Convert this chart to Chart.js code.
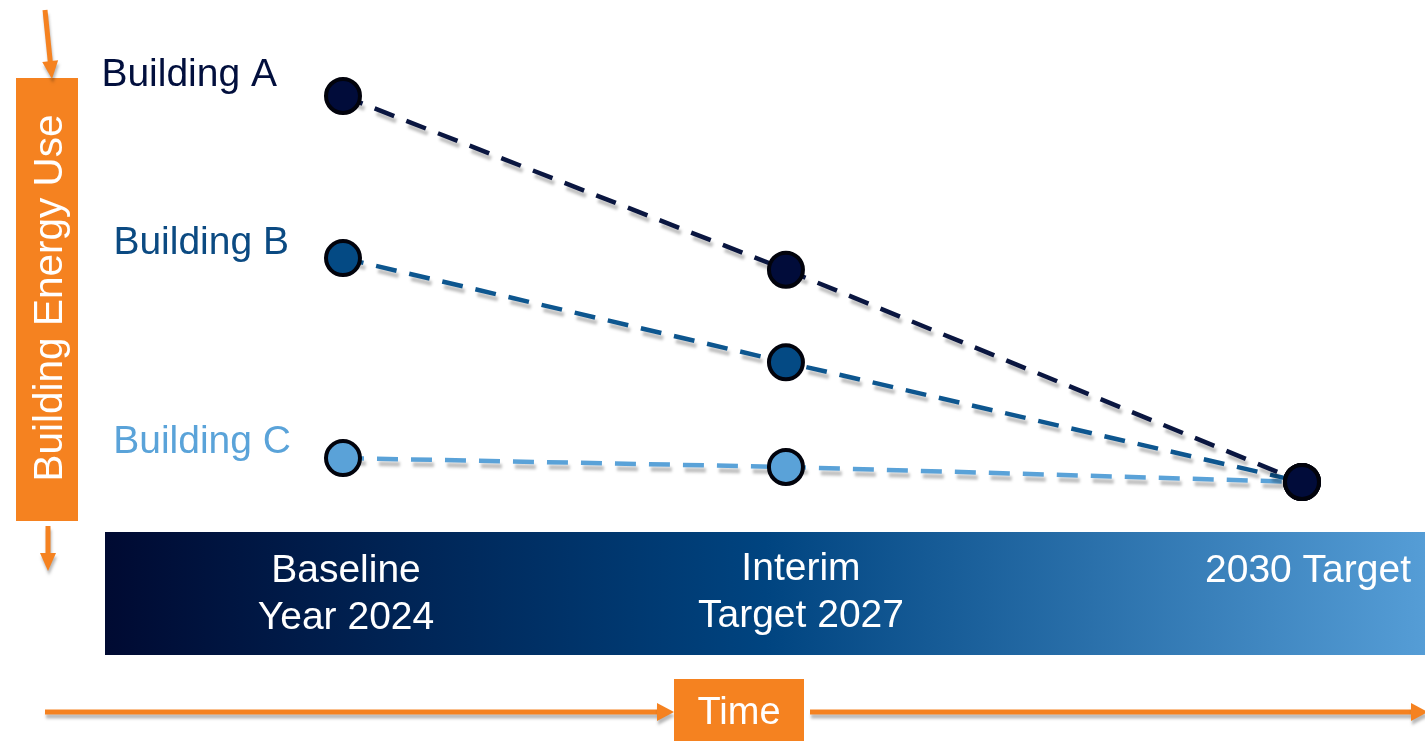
<!DOCTYPE html>
<html>
<head>
<meta charset="utf-8">
<script src="https://cdn.jsdelivr.net/npm/chart.js@4.4.1/dist/chart.umd.min.js"></script>
<style>
html,body{margin:0;padding:0;background:#fff;overflow:hidden;}
canvas{display:block;}
</style>
</head>
<body>
<canvas id="c" width="1425" height="741"></canvas>
<script>
// ---- data ----
const milestones = ["Baseline\nYear 2024", "Interim\nTarget 2027", "2030 Target"];
const milestoneX = [0, 1, 2.165];
const buildingNames = ["Building A", "Building B", "Building C"];
const buildingA = [100, 55, 0];
const buildingB = [58, 31, 0];
const buildingC = [6.2, 3.9, 0];
const yAxisTitle = "Building Energy Use";
const xAxisTitle = "Time";

const lineColors = ["#0a1640", "#0d568f", "#5aa2d8"];
const fillColors = ["#010c3a", "#044a84", "#5aa2d8"];
const labelColors = ["#020f3d", "#0b4a82", "#5aa3d9"];
const ORANGE = "#f58220";
const FONT = '"Liberation Sans", Arial, sans-serif';

function pts(vals){ return vals.map((v,i)=>({x:milestoneX[i], y:v})); }
const series = [buildingA, buildingB, buildingC];

const datasets = series.map((vals,i)=>({
  label: buildingNames[i],
  data: pts(vals),
  borderColor: lineColors[i],
  borderWidth: 4.5,
  borderDash: [21, 13],
  backgroundColor: fillColors[i],
  pointBackgroundColor: fillColors[i],
  pointBorderColor: "#02030c",
  pointBorderWidth: 4,
  pointRadius: 17,
  pointHoverRadius: 17,
  tension: 0,
  fill: false,
  clip: false
}));

function arrowHead(ctx, tx, ty, angle, len, half){
  ctx.save();
  ctx.translate(tx, ty);
  ctx.rotate(angle);
  ctx.beginPath();
  ctx.moveTo(0,0);
  ctx.lineTo(-len, -half);
  ctx.lineTo(-len, half);
  ctx.closePath();
  ctx.fill();
  ctx.restore();
}
function arrow(ctx, x1, y1, x2, y2, w, head, half, withHead){
  const ang = Math.atan2(y2-y1, x2-x1);
  const ex = x2 - Math.cos(ang)*(withHead? head-1:0), ey = y2 - Math.sin(ang)*(withHead? head-1:0);
  ctx.beginPath();
  ctx.moveTo(x1,y1); ctx.lineTo(ex,ey);
  ctx.lineWidth = w; ctx.strokeStyle = ORANGE; ctx.stroke();
  if (withHead){ ctx.fillStyle = ORANGE; arrowHead(ctx, x2, y2, ang, head, half); }
}
function shadowOn(ctx){
  ctx.shadowColor = "rgba(0,0,0,0.28)";
  ctx.shadowBlur = 3; ctx.shadowOffsetX = 1; ctx.shadowOffsetY = 4;
}
function shadowOff(ctx){
  ctx.shadowColor = "transparent"; ctx.shadowBlur = 0; ctx.shadowOffsetX = 0; ctx.shadowOffsetY = 0;
}

const decor = {
  id: "decor",
  beforeDraw(chart){
    const ctx = chart.ctx;
    ctx.save();
    ctx.fillStyle = "#fff";
    ctx.fillRect(0,0,chart.width,chart.height);
    // bottom gradient bar
    const g = ctx.createLinearGradient(105,0,1425,0);
    g.addColorStop(0, "#000a32");
    g.addColorStop(0.5, "#004480");
    g.addColorStop(1, "#559dd6");
    ctx.fillStyle = g;
    ctx.fillRect(105, 532, 1320, 123);
    // milestone labels, centred near each point's x
    const xs = chart.scales.x;
    const shift = [3, 15, 6];
    ctx.fillStyle = "#fff";
    ctx.font = "39px " + FONT;
    ctx.textAlign = "center"; ctx.textBaseline = "middle";
    milestones.forEach((m,i)=>{
      const px = xs.getPixelForValue(milestoneX[i]) + shift[i];
      const lines = m.split("\n");
      const y0 = lines.length === 1 ? 571 : (i===0 ? 571 : 569);
      lines.forEach((ln,k)=> ctx.fillText(ln, px, y0 + k*47));
    });
    // left orange box with axis title
    ctx.fillStyle = ORANGE;
    ctx.fillRect(16, 78, 62, 443);
    ctx.save();
    ctx.translate(51, 298);
    ctx.rotate(-Math.PI/2);
    ctx.fillStyle = "#fff";
    ctx.font = "40.5px " + FONT;
    ctx.textAlign = "center"; ctx.textBaseline = "middle";
    ctx.fillText(yAxisTitle, 0, 0);
    ctx.restore();
    // arrows with shadow
    shadowOn(ctx);
    arrow(ctx, 45, 10, 52, 79, 5, 18, 8, true);
    arrow(ctx, 48, 526, 48, 571, 5, 18, 8, true);
    arrow(ctx, 45, 712, 674, 712, 5, 17, 9, true);
    arrow(ctx, 810, 712, 1428, 712, 5, 17, 9, true);
    shadowOff(ctx);
    // time box
    ctx.fillStyle = ORANGE;
    ctx.fillRect(674, 679, 130, 62);
    ctx.fillStyle = "#fff";
    ctx.font = "38px " + FONT;
    ctx.textAlign = "center"; ctx.textBaseline = "middle";
    ctx.fillText(xAxisTitle, 739, 714);
    // building labels
    ctx.font = "39px " + FONT;
    ctx.textAlign = "right";
    const rights = [277, 289, 291];
    const dy = [-21, -15, -16];
    chart.data.datasets.forEach((ds,i)=>{
      const p = chart.getDatasetMeta(i).data[0];
      ctx.fillStyle = labelColors[i];
      ctx.fillText(buildingNames[i], rights[i], p.y + dy[i]);
    });
    ctx.restore();
  },
  beforeDatasetDraw(chart, args){
    const ctx = chart.ctx;
    const meta = args.meta;
    const area = chart.chartArea;
    ctx.save();
    ctx.shadowOffsetY = 5; ctx.shadowOffsetX = 2; ctx.shadowBlur = 3;
    ctx.shadowColor = "rgba(0,0,0,0.26)";
    meta.dataset.draw(ctx, area);
    ctx.restore();
    ctx.save();
    shadowOff(ctx);
    meta.data.forEach(p=>p.draw(ctx, area));
    ctx.restore();
    return false;
  }
};

new Chart(document.getElementById("c"), {
  type: "line",
  data: { datasets },
  options: {
    responsive: false,
    animation: false,
    events: [],
    layout: { padding: { left: 343, right: 123, top: 96, bottom: 259 } },
    plugins: { legend: { display: false }, tooltip: { enabled: false } },
    scales: {
      x: { type: "linear", min: 0, max: 2.165, display: false },
      y: { type: "linear", min: 0, max: 100, display: false }
    }
  },
  plugins: [decor]
});
</script>
</body>
</html>
